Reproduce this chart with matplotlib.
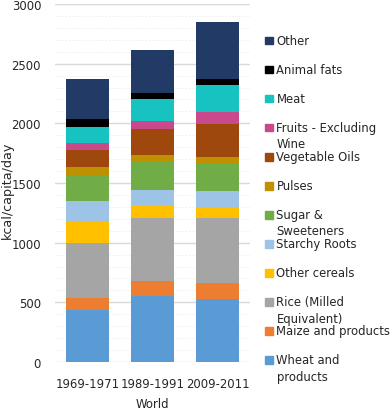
import matplotlib
matplotlib.use("Agg")
import matplotlib.pyplot as plt
from matplotlib.patches import Rectangle
import numpy as np

plt.rcParams['font.family'] = ['DejaVu Sans']

periods = ["1969-1971", "1989-1991", "2009-2011"]
items = ["Wheat and products", "Maize and products", "Rice (Milled Equivalent)",
         "Other cereals", "Starchy Roots", "Sugar & Sweeteners", "Pulses",
         "Vegetable Oils", "Fruits - Excluding Wine", "Meat", "Animal fats", "Other"]
legend_labels = ["Wheat and\nproducts", "Maize and products", "Rice (Milled\nEquivalent)",
                 "Other cereals", "Starchy Roots", "Sugar &\nSweeteners", "Pulses",
                 "Vegetable Oils", "Fruits - Excluding\nWine", "Meat", "Animal fats", "Other"]
wheat = [432, 553, 525]
maize = [104, 122, 140]
rice = [464, 532, 544]
other_cereals = [173, 111, 84]
starchy_roots = [175, 126, 137]
sugar = [222, 237, 226]
pulses = [64, 50, 62]
veg_oils = [139, 224, 279]
fruits = [62, 67, 95]
meat = [134, 178, 226]
animal_fats = [64, 57, 56]
other = [335, 360, 475]
series = [wheat, maize, rice, other_cereals, starchy_roots, sugar, pulses,
          veg_oils, fruits, meat, animal_fats, other]
colors = ["#5B9BD5", "#ED7D31", "#A5A5A5", "#FFC000", "#9DC3E6", "#70AD47",
          "#BF9000", "#9E480E", "#C8498C", "#17C3C0", "#000000", "#223A66"]

FS = 8.4
W, H = 392, 410
fig = plt.figure(figsize=(W / 100, H / 100), dpi=100)
ax = fig.add_axes([55 / W, 1 - 363 / H, 195 / W, 358 / H])

x = np.arange(len(periods))
bottom = np.zeros(len(periods))
for vals, c in zip(series, colors):
    ax.bar(x, vals, bottom=bottom, width=0.65, color=c, zorder=3, linewidth=0)
    bottom += np.array(vals)

ax.set_xlim(-0.5, 2.5)
ax.set_ylim(0, 3000)
ax.set_yticks(np.arange(0, 3001, 500))
ax.set_yticks(np.arange(0, 3001, 100), minor=True)
ax.grid(axis='y', which='major', color='#d9d9d9', linewidth=1.0, zorder=0)
ax.grid(axis='y', which='minor', color='#eeeeee', linewidth=0.6, linestyle=(0, (2, 2)), zorder=0)
ax.tick_params(axis='y', which='minor', length=0)
for s in ax.spines.values():
    s.set_visible(False)
ax.set_xticks(x)
ax.set_xticklabels(periods)
ax.tick_params(axis='both', which='major', length=0, labelsize=FS, colors='#262626')
ax.tick_params(axis='x', pad=11)
ax.tick_params(axis='y', pad=10)
ax.set_xlabel("World", fontsize=FS, color='#262626', va='center')
ax.set_ylabel("kcal/capita/day", fontsize=9.2, color='#262626', va='center')
ax.xaxis.set_label_coords(0.5, (363 - 405) / 358)
ax.yaxis.set_label_coords((7 - 55) / 195, (363 - 190) / 358)

# legend (Excel-style, top-aligned entries)
hx = 265
tx = 276.5
y0 = 41.5
step = 29.05
n = len(items)
for i in range(n):
    idx = n - 1 - i
    yc = y0 + i * step
    fig.patches.append(Rectangle((hx / W, 1 - (yc + 3.8) / H), 7.5 / W, 7.5 / H,
                                 transform=fig.transFigure, color=colors[idx]))
    fig.text(tx / W, 1 - (yc - 6.8) / H, legend_labels[idx], fontsize=FS,
             color='#262626', va='top', ha='left', linespacing=1.35)

fig.savefig("out.png", dpi=100)
